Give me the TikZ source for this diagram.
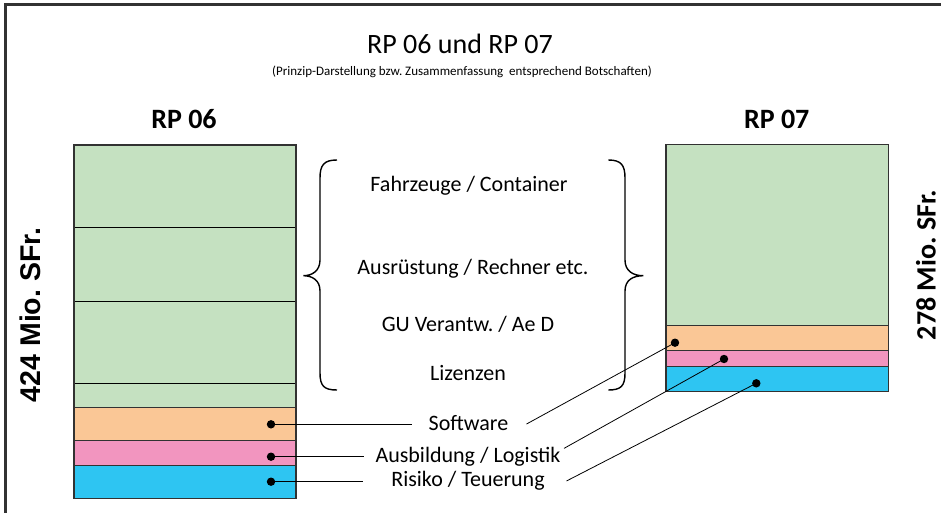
\documentclass[tikz,border=0pt]{standalone}
\usepackage{fontspec}
\setmainfont{Carlito}
\newfontfamily\arialfont{Liberation Sans}
\usetikzlibrary{calc}
\frenchspacing
\definecolor{cgreen}{RGB}{197,225,193}
\definecolor{corange}{RGB}{250,199,150}
\definecolor{cpink}{RGB}{242,149,191}
\definecolor{cblue}{RGB}{46,197,242}
\definecolor{cframe}{RGB}{50,50,50}
\begin{document}
\begin{tikzpicture}[x=1pt,y=-1pt,
  lbl/.style={font=\fontsize{22}{26}\selectfont, anchor=base, inner sep=0pt},
  head/.style={font=\fontsize{28}{32}\selectfont\bfseries, anchor=base, inner sep=0pt},
  sep/.style={draw=black, line width=0.9pt},
  outline/.style={draw=cframe, line width=1.4pt},
  leader/.style={draw=black, line width=0.8pt},
  brace/.style={draw=black, line width=1.4pt},
  dot/.style={fill=black}]
\useasboundingbox (0,0) rectangle (941,513);
% frame
\draw[cframe, line width=2.7pt] (5.3,513) -- (5.3,4.7) -- (941,4.7);
% titles
\node[font=\fontsize{28}{32}\selectfont, anchor=base, inner sep=0pt] (title) at (460,53.3) {RP 06 und RP 07};
\node[font=\fontsize{13}{15}\selectfont, anchor=base, inner sep=0pt] (sub) at (462,76) {(Prinzip-Darstellung bzw. Zusammenfassung\ \ entsprechend Botschaften)};
\node[head] (rp6) at (184,128.3) {RP 06};
\node[head] (rp7) at (776.7,128.3) {RP 07};
\node[font=\arialfont\fontsize{28.5}{32}\selectfont\bfseries, rotate=90, inner sep=0pt] (sum6) at (30.7,315) {424 Mio. SFr.};
\node[font=\fontsize{28}{32}\selectfont\bfseries, rotate=90, anchor=south, inner sep=0pt] (sum7) at (936,265) {278 Mio. SFr.};
% left box
\fill[cgreen] (74,145) rectangle (296,407.7);
\fill[corange] (74,407.7) rectangle (296,440.7);
\fill[cpink] (74,440.7) rectangle (296,465.7);
\fill[cblue] (74,465.7) rectangle (296,498.3);
\draw[sep] (74,227.7) -- (296,227.7);
\draw[sep] (74,301.7) -- (296,301.7);
\draw[sep] (74,383.3) -- (296,383.3);
\draw[outline] (74,407.7) -- (296,407.7);
\draw[outline] (74,440.7) -- (296,440.7);
\draw[outline] (74,465.7) -- (296,465.7);
\draw[outline] (74,145) rectangle (296,498.3);
% right box
\fill[cgreen] (666,144.3) rectangle (888.3,325.7);
\fill[corange] (666,325.7) rectangle (888.3,350.3);
\fill[cpink] (666,350.3) rectangle (888.3,366.7);
\fill[cblue] (666,366.7) rectangle (888.3,391.7);
\draw[outline] (666,325.7) -- (888.3,325.7);
\draw[outline] (666,350.3) -- (888.3,350.3);
\draw[outline] (666,366.7) -- (888.3,366.7);
\draw[outline] (666,144.3) rectangle (888.3,391.7);
% braces
\draw[brace] (337,160) .. controls (324,160) and (320,165) .. (320,178) -- (320,260)
  .. controls (320,271) and (312,275.7) .. (303.3,275.7)
  .. controls (312,275.7) and (320,280) .. (320,291) -- (320,373)
  .. controls (320,386) and (324,390) .. (337,390);
\draw[brace] (608.3,160) .. controls (621,160) and (625,165) .. (625,178) -- (625,260)
  .. controls (625,271) and (633,275.7) .. (643.3,275.7)
  .. controls (633,275.7) and (625,280) .. (625,291) -- (625,373)
  .. controls (625,386) and (621,390) .. (608.3,390);
% brace texts
\node[lbl] (t1) at (469,191.7) {Fahrzeuge / Container};
\node[lbl] (t2) at (473,274) {Ausrüstung / Rechner etc.};
\node[lbl] (t3) at (468,331.7) {GU Verantw. / Ae D};
\node[lbl] (t4) at (468,380.7) {Lizenzen};
% labels
\node[lbl] (sw) at (468.5,430) {Software};
\node[lbl] (ab) at (468,462.7) {Ausbildung / Logistik};
\node[lbl] (rt) at (468,486) {Risiko / Teuerung};
% dots
\coordinate (d1) at (271,424.3);
\coordinate (d2) at (271,456.7);
\coordinate (d3) at (271,481.7);
\coordinate (e1) at (675,342.7);
\coordinate (e2) at (724,359);
\coordinate (e3) at (756.3,383.3);
\foreach \p in {d1,d2,d3,e1,e2,e3} \fill[dot] (\p) circle (4.2);
% leaders
\draw[leader] (d1) -- ([xshift=-17pt]sw.west |- d1);
\draw[leader] (d2) -- ([xshift=-11pt]ab.west |- d2);
\draw[leader] (d3) -- ([xshift=-28pt]rt.west |- d3);
\draw[leader] ($(sw.east)+(18,1.5)$) -- (e1);
\draw[leader] ($(ab.east)+(3.4,-8.6)$) -- (e2);
\draw[leader] ($(rt.east)+(21.7,0.7)$) -- (e3);
\end{tikzpicture}
\end{document}
